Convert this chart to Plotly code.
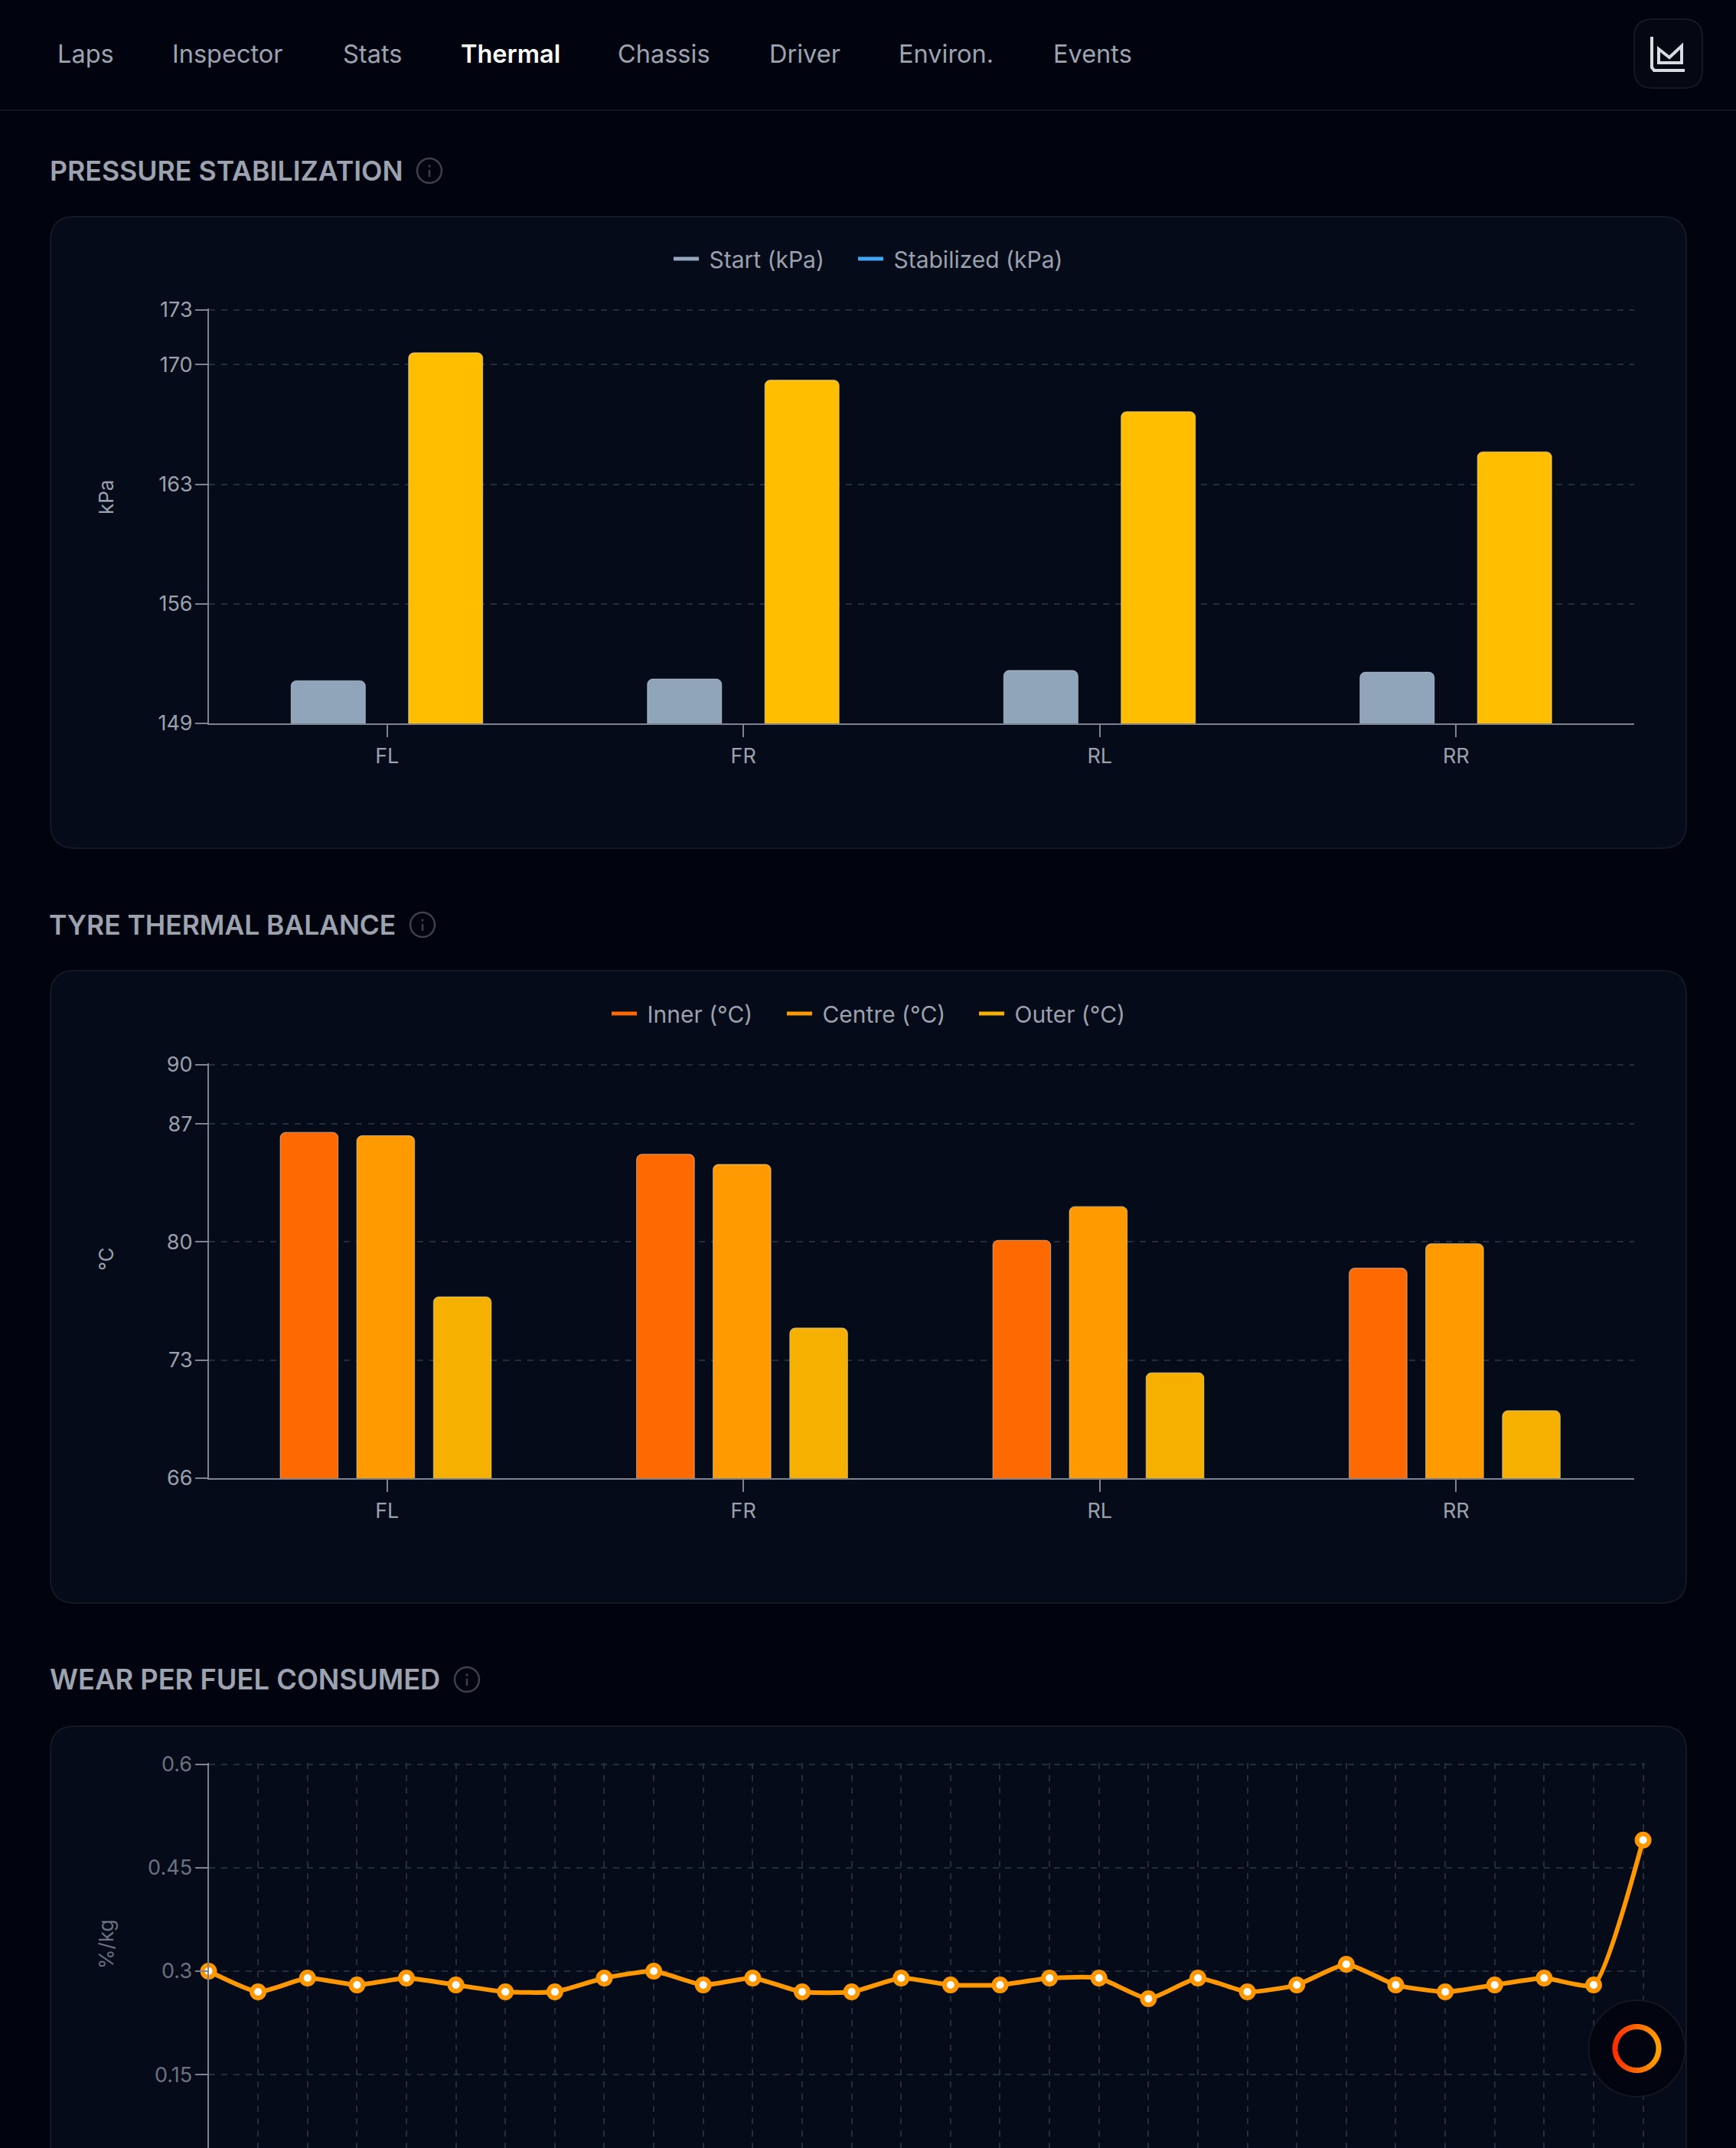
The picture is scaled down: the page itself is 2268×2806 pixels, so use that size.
import math
import plotly.graph_objects as go

W, H = 2268, 2806

# Tyre positions shared by both bar charts
corners = ["FL", "FR", "RL", "RR"]

# Pressure per tyre (kPa)
start_kpa = [151.5, 151.6, 152.1, 152.0]
stabilized_kpa = [170.7, 169.1, 167.25, 164.9]

# Tyre carcass temperatures (°C)
inner_c = [86.5, 85.2, 80.1, 78.45]
centre_c = [86.3, 84.6, 82.1, 79.9]
outer_c = [76.75, 74.9, 72.25, 70.0]

# Wear rate per lap (%/kg)
laps = list(range(1, 31))
wear_per_kg = [0.30, 0.27, 0.29, 0.28, 0.29, 0.28, 0.27, 0.27, 0.29, 0.30,
               0.28, 0.29, 0.27, 0.27, 0.29, 0.28, 0.28, 0.29, 0.29, 0.26,
               0.29, 0.27, 0.28, 0.31, 0.28, 0.27, 0.28, 0.29, 0.28, 0.49]

# Axis tick positions and their printed labels
pressure_ticks = [149, 156, 163, 170, 173.2]
pressure_labels = ["149", "156", "163", "170", "173"]
thermal_ticks = [66, 73, 80, 87, 90.5]
thermal_labels = ["66", "73", "80", "87", "90"]
wear_ticks = [0.15, 0.30, 0.45, 0.60]
wear_labels = ["0.15", "0.3", "0.45", "0.6"]

nav_items = ["Laps", "Inspector", "Stats", "Thermal", "Chassis", "Driver", "Environ.", "Events"]
nav_x = [73, 223, 446, 600, 805, 1003, 1172, 1374]

FONT = "Inter"
BG = "#01040f"
CARD = "#050b18"
BORDER = "#141925"
GRID = "#232e3c"
AXIS = "#7d8490"
TICK_TEXT = "#9aa1ad"
DIM_TEXT = "#6b7280"
HEAD_TEXT = "#9ca3af"


def px(x):
    return x / W


def py(y):
    return 1 - y / H


def rounded_rect(x0, y0, x1, y1, r):
    return (f"M{px(x0 + r)},{py(y0)} L{px(x1 - r)},{py(y0)} "
            f"Q{px(x1)},{py(y0)} {px(x1)},{py(y0 + r)} L{px(x1)},{py(y1 - r)} "
            f"Q{px(x1)},{py(y1)} {px(x1 - r)},{py(y1)} L{px(x0 + r)},{py(y1)} "
            f"Q{px(x0)},{py(y1)} {px(x0)},{py(y1 - r)} L{px(x0)},{py(y0 + r)} "
            f"Q{px(x0)},{py(y0)} {px(x0 + r)},{py(y0)} Z")


def poly(points):
    return "M" + " L".join(f"{px(x)},{py(y)}" for x, y in points)


shapes = []
annotations = []


def add_shape(**kw):
    kw.setdefault("xref", "paper")
    kw.setdefault("yref", "paper")
    kw.setdefault("layer", "below")
    shapes.append(kw)


def add_text(text, x, y, size, color, weight=400, anchor="left", angle=0):
    annotations.append(dict(
        text=text, x=px(x), y=py(y), xref="paper", yref="paper", showarrow=False,
        xanchor=anchor, yanchor="middle", textangle=angle,
        font=dict(family=FONT, size=size, color=color, weight=weight),
    ))


def add_circle(cx, cy, r, **kw):
    add_shape(type="circle", x0=px(cx - r), x1=px(cx + r), y0=py(cy + r), y1=py(cy - r), **kw)


# Navigation strip
add_shape(type="line", x0=0, x1=1, y0=py(144), y1=py(144), line=dict(color="#10141d", width=2))
for label, x in zip(nav_items, nav_x):
    active = label == "Thermal"
    add_text(label, x, 70, 32.5, "#ffffff" if active else HEAD_TEXT, 600 if active else 400)

# Toolbar button with its chart glyph
add_shape(type="path", path=rounded_rect(2135, 25, 2224, 115, 24),
          fillcolor="#050812", line=dict(color="#151922", width=2))
add_shape(type="path", path=poly([(2158, 48), (2158, 88), (2161, 92), (2201, 92)]),
          line=dict(color="#d7dbe2", width=4))
add_shape(type="path", path=poly([(2167, 82), (2167, 64), (2181, 75), (2197, 60), (2197, 82)]) + " Z",
          line=dict(color="#d7dbe2", width=4))

# Section headings, info icons and card backgrounds
sections = [
    ("PRESSURE STABILIZATION", 35.7, 63, 223, 561, 283, 1108),
    ("TYRE THERMAL BALANCE", 35.4, 62, 1208, 552, 1268, 2094),
    ("WEAR PER FUEL CONSUMED", 36.3, 63, 2194, 610, 2255, 2860),
]
for title, size, text_x, y, icon_x, top, bottom in sections:
    add_text(title, text_x, y, size, HEAD_TEXT, 600)
    add_circle(icon_x, y, 16, line=dict(color="#3d4049", width=2.5), fillcolor="rgba(0,0,0,0)")
    add_shape(type="line", x0=px(icon_x), x1=px(icon_x), y0=py(y + 8), y1=py(y - 1),
              line=dict(color="#3d4049", width=2.5))
    add_circle(icon_x, y - 6, 1.2, line=dict(color="#3d4049", width=1), fillcolor="#3d4049")
    add_shape(type="path", path=rounded_rect(66, top, 2203, bottom, 32),
              fillcolor=CARD, line=dict(color=BORDER, width=2))

# Axis captions
add_text("kPa", 138, 650, 26, TICK_TEXT, anchor="center", angle=-90)
add_text("°C", 138, 1645, 26, TICK_TEXT, anchor="center", angle=-90)
add_text("%/kg", 138, 2540, 26, DIM_TEXT, anchor="center", angle=-90)

# Floating status button, drawn over the wear chart
add_circle(2138.5, 2676, 63, fillcolor="#020510", line=dict(color="#14171f", width=2), layer="above")
segments = 36
for i in range(segments):
    a0 = 2 * math.pi * i / segments
    a1 = 2 * math.pi * (i + 1.15) / segments
    mix = (math.cos((a0 + a1) / 2) + 1) / 2
    color = f"rgb(255,{int(48 + mix * 112)},0)"
    pts = [(2138.5 + 28.5 * math.cos(a0 + (a1 - a0) * k / 4),
            2676 - 28.5 * math.sin(a0 + (a1 - a0) * k / 4)) for k in range(5)]
    add_shape(type="path", path=poly(pts), line=dict(color=color, width=7), layer="above")

fig = go.Figure()

# Pressure bars
PRESSURE_WIDTH = 0.2085
fig.add_trace(go.Bar(x=corners, y=start_kpa, marker_color="#90a4ba", xaxis="x", yaxis="y",
                     width=PRESSURE_WIDTH, offset=-0.2696, showlegend=False, name="Start (kPa)"))
fig.add_trace(go.Bar(x=corners, y=stabilized_kpa, marker_color="#ffbf00", xaxis="x", yaxis="y",
                     width=PRESSURE_WIDTH, offset=0.060, showlegend=False, name="Stabilized (kPa)"))

# Thermal bars
THERMAL_WIDTH = 0.1625
fig.add_trace(go.Bar(x=corners, y=inner_c, marker_color="#ff6a00", xaxis="x2", yaxis="y2",
                     width=THERMAL_WIDTH, offset=-0.300, showlegend=False, name="Inner (°C)"))
fig.add_trace(go.Bar(x=corners, y=centre_c, marker_color="#ff9a00", xaxis="x2", yaxis="y2",
                     width=THERMAL_WIDTH, offset=-0.0853, showlegend=False, name="Centre (°C)"))
fig.add_trace(go.Bar(x=corners, y=outer_c, marker_color="#f5b000", xaxis="x2", yaxis="y2",
                     width=THERMAL_WIDTH, offset=0.130, showlegend=False, name="Outer (°C)"))

# Wear line
fig.add_trace(go.Scatter(
    x=laps, y=wear_per_kg, xaxis="x3", yaxis="y3", mode="lines+markers", showlegend=False,
    line=dict(color="#ff9800", width=6, shape="spline", smoothing=0.5), cliponaxis=False,
    marker=dict(size=16, color="#ffffff", line=dict(color="#ff9800", width=6)),
    name="Wear (%/kg)",
))

# Legend entries, each in its own box so the spacing can be set per item
legend_items = [
    ("Start (kPa)", "#94a7bd", "legend", "x", "y", 875, 338),
    ("Stabilized (kPa)", "#42a5f5", "legend2", "x", "y", 1116, 338),
    ("Inner (°C)", "#ff6a00", "legend3", "x2", "y2", 794, 1324),
    ("Centre (°C)", "#ff9a00", "legend4", "x2", "y2", 1023, 1324),
    ("Outer (°C)", "#f5b000", "legend5", "x2", "y2", 1274, 1324),
]
layout_legends = {}
for name, color, key, xa, ya, lx, ly in legend_items:
    fig.add_trace(go.Scatter(x=[None], y=[None], mode="lines", xaxis=xa, yaxis=ya, legend=key,
                             name="\u00a0" + name, line=dict(color=color, width=5)))
    layout_legends[key] = dict(
        x=px(lx), y=py(ly), xanchor="left", yanchor="middle", xref="paper", yref="paper",
        orientation="h", itemwidth=33, bgcolor="rgba(0,0,0,0)", borderwidth=0,
        font=dict(family=FONT, size=30, color=TICK_TEXT), itemclick=False, itemdoubleclick=False,
        tracegroupgap=0,
    )


def value_axis(domain_top, domain_bottom, rng, ticks, labels, anchor, color=TICK_TEXT):
    return dict(
        domain=[py(domain_bottom), py(domain_top)], range=rng, anchor=anchor,
        tickmode="array", tickvals=ticks, ticktext=labels,
        showline=True, linecolor=AXIS, linewidth=2,
        ticks="outside", ticklen=16, tickwidth=2, tickcolor=AXIS, ticklabelstandoff=-2,
        showgrid=True, gridcolor=GRID, gridwidth=2, griddash="8px,8px",
        zeroline=False, tickfont=dict(family=FONT, size=27, color=color),
    )


def category_axis(anchor):
    return dict(
        domain=[px(273), px(2135)], anchor=anchor, type="category", categoryorder="array",
        categoryarray=corners, range=[-0.5, 3.5], showline=True, linecolor=AXIS, linewidth=2,
        ticks="outside", ticklen=16, tickwidth=2, tickcolor=AXIS, ticklabelstandoff=2,
        showgrid=False, zeroline=False,
        tickfont=dict(family=FONT, size=27, color=TICK_TEXT),
    )


# The value ranges run just past the top tick so its gridline stays drawn
fig.update_layout(
    width=W, height=H, autosize=False, margin=dict(l=0, r=0, t=0, b=0, pad=0, autoexpand=False),
    paper_bgcolor=BG, plot_bgcolor="rgba(0,0,0,0)",
    barmode="overlay", barcornerradius=7,
    shapes=shapes, annotations=annotations, hovermode=False,
    xaxis=category_axis("y"),
    yaxis=value_axis(403, 945, [149, 173.2 + 2 / 22.3], pressure_ticks, pressure_labels, "x"),
    xaxis2=category_axis("y2"),
    yaxis2=value_axis(1389, 1931, [66, 90.5 + 2 / 22.07], thermal_ticks, thermal_labels, "x2"),
    xaxis3=dict(domain=[px(272.5), px(2148.6)], anchor="y3", range=[1, 30 + 2 / 64.6], tickmode="linear", tick0=1, dtick=1,
                showticklabels=False, ticks="", showline=False, zeroline=False,
                showgrid=True, gridcolor=GRID, gridwidth=2, griddash="8px,8px"),
    yaxis3=value_axis(2302.6, H, [0.6 - (H - 2304.6) * 0.15 / 135.2, 0.6 + 2 * 0.15 / 135.2], wear_ticks, wear_labels, "x3",
                      color=DIM_TEXT),
    **layout_legends,
)

fig.write_html("out.html", config=dict(displayModeBar=False))
